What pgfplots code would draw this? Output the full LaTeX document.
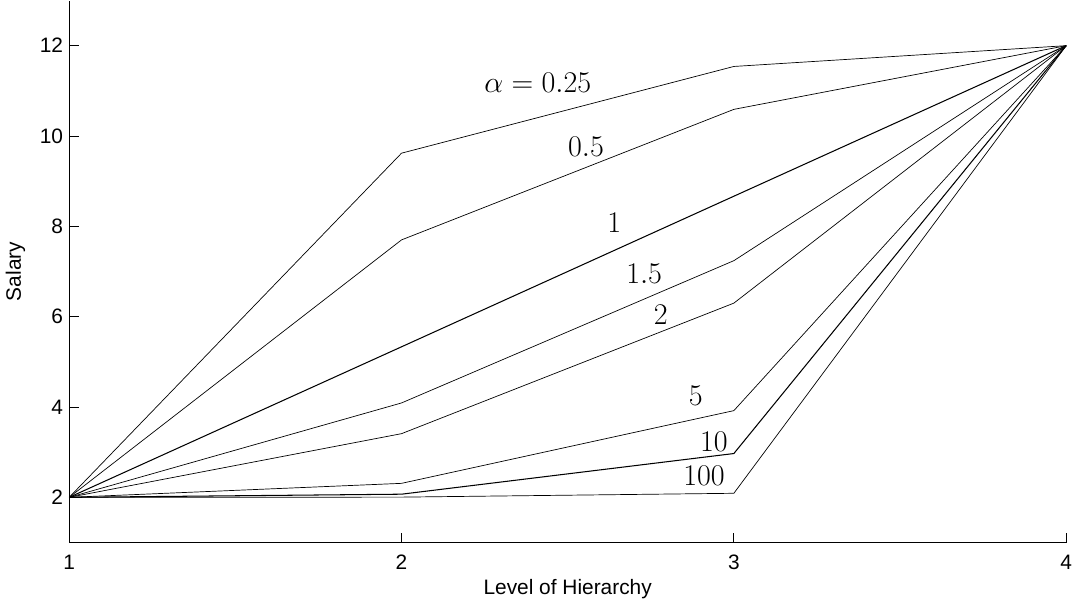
\documentclass[border=0pt]{standalone}
\usepackage[no-math]{fontspec}
\usepackage{pgfplots}
\pgfplotsset{compat=1.18}
\newfontfamily\helv{Liberation Sans}
\pgfplotstableread{
x a025 a05 a1 a15 a2 a5 a10 a100
1 2 2 2 2 2 2 2 2
2 9.62 7.70 5.333 4.09 3.41 2.31 2.07 2.005
3 11.54 10.59 8.667 7.24 6.30 3.92 2.97 2.09
4 12 12 12 12 12 12 12 12
}\datatable
\begin{document}
\begin{tikzpicture}
\begin{axis}[
  scale only axis,
  width=573pt, height=311.5pt,
  xmin=1, xmax=4, ymin=1, ymax=13,
  axis lines=left,
  axis line style={-, line width=0.6pt},
  xtick={1,2,3,4},
  ytick={2,4,6,8,10,12},
  tick align=inside,
  major tick length=5.5pt,
  tick style={black, line width=0.5pt},
  /pgf/number format/assume math mode=true,
  tick label style={font=\helv\large},
  xticklabel style={inner xsep=0pt, yshift=-3.5pt},
  label style={font=\helv\large},
  xlabel={Level of Hierarchy},
  ylabel={Salary},
  xlabel style={yshift=1pt},
  ylabel style={yshift=1.5pt},
  clip=false,
  cycle list={{black, solid, line width=0.6pt, mark=none}},
]
\addplot table[x=x,y=a025]{\datatable};
\addplot table[x=x,y=a05]{\datatable};
\addplot table[x=x,y=a1]{\datatable};
\addplot table[x=x,y=a15]{\datatable};
\addplot table[x=x,y=a2]{\datatable};
\addplot table[x=x,y=a5]{\datatable};
\addplot table[x=x,y=a10]{\datatable};
\addplot table[x=x,y=a100]{\datatable};
\tikzset{lbl/.style={font=\fontsize{18.5}{22}\selectfont}}
\node[lbl] at (axis cs:2.41,11.18) {$\alpha = 0.25$};
\node[lbl] at (axis cs:2.555,9.75) {$0.5$};
\node[lbl] at (axis cs:2.64,8.08) {$1$};
\node[lbl] at (axis cs:2.73,6.96) {$1.5$};
\node[lbl] at (axis cs:2.78,6.05) {$2$};
\node[lbl] at (axis cs:2.885,4.25) {$5$};
\node[lbl] at (axis cs:2.94,3.23) {$10$};
\node[lbl] at (axis cs:2.91,2.48) {$100$};
\end{axis}
\end{tikzpicture}
\end{document}
